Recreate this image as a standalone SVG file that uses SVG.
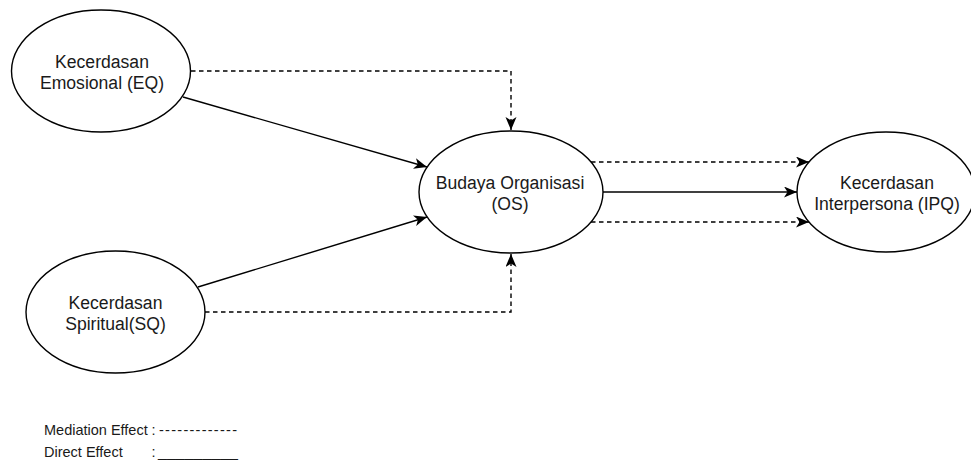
<svg xmlns="http://www.w3.org/2000/svg" width="971" height="464" viewBox="0 0 971 464">
  <style>
    .node ellipse { fill: #ffffff; stroke: #000000; stroke-width: 1.4; }
    .node text { font-family: "Liberation Sans", Arial, sans-serif; font-size: 17.6px; fill: #1a1a1a; text-anchor: middle; }
    .edge { fill: none; stroke: #000000; stroke-width: 1.4; }
    .dashed { stroke-dasharray: 4.5 3.5; }
    .legend { font-family: "Liberation Sans", Arial, sans-serif; font-size: 14.5px; fill: #1a1a1a; }
  </style>
  <defs>
    <marker id="arrow" markerUnits="userSpaceOnUse" markerWidth="14" markerHeight="12" refX="13" refY="5.5" orient="auto">
      <path d="M0,0 L13,5.5 L0,11 L3.5,5.5 Z" fill="#000000"/>
    </marker>
  </defs>
  <rect width="971" height="464" fill="#ffffff"/>

  <g id="connectors">
    <path class="edge dashed" d="M191,71 H511 V130" marker-end="url(#arrow)"/>
    <path class="edge" d="M183,97 L427,167" marker-end="url(#arrow)"/>
    <path class="edge" d="M198,287 L427,217" marker-end="url(#arrow)"/>
    <path class="edge dashed" d="M205,312 H511 V254" marker-end="url(#arrow)"/>
    <path class="edge dashed" d="M591,162 H809" marker-end="url(#arrow)"/>
    <path class="edge" d="M603,192 H797" marker-end="url(#arrow)"/>
    <path class="edge dashed" d="M591,222 H809" marker-end="url(#arrow)"/>
  </g>

  <g id="node-eq" class="node">
    <ellipse cx="101" cy="71" rx="89.5" ry="61"/>
    <text x="102" y="68">Kecerdasan</text>
    <text x="102" y="89">Emosional (EQ)</text>
  </g>

  <g id="node-sq" class="node">
    <ellipse cx="115.5" cy="312" rx="89.5" ry="61"/>
    <text x="115.5" y="309">Kecerdasan</text>
    <text x="115.5" y="330">Spiritual(SQ)</text>
  </g>

  <g id="node-os" class="node">
    <ellipse cx="511" cy="192" rx="92" ry="61"/>
    <text x="510" y="189">Budaya Organisasi</text>
    <text x="510" y="210">(OS)</text>
  </g>

  <g id="node-ipq" class="node">
    <ellipse cx="886" cy="192" rx="89" ry="60"/>
    <text x="887" y="189">Kecerdasan</text>
    <text x="887" y="210">Interpersona (IPQ)</text>
  </g>

  <g id="legend" class="legend">
    <text x="44" y="435">Mediation Effect<tspan x="151.5">:</tspan><tspan x="159" textLength="78" lengthAdjust="spacing">-------------</tspan></text>
    <text x="44" y="457">Direct Effect<tspan x="151.5">:</tspan><tspan x="158" textLength="80" lengthAdjust="spacingAndGlyphs">_________</tspan></text>
  </g>
</svg>
